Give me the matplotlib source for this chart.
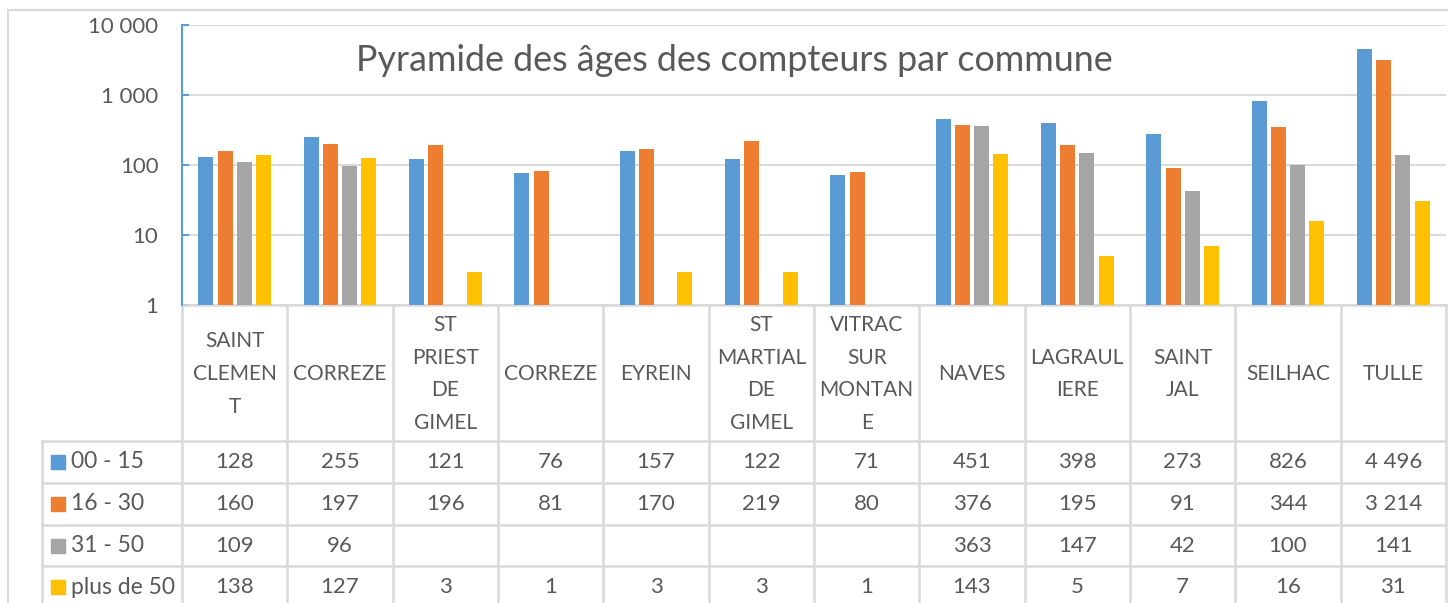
import numpy as np
import matplotlib
matplotlib.use("Agg")
import matplotlib.pyplot as plt
from matplotlib.transforms import blended_transform_factory
from matplotlib.lines import Line2D

# ---------------- data ----------------
communes = ["SAINT\nCLEMEN\nT", "CORREZE", "ST\nPRIEST\nDE\nGIMEL", "CORREZE", "EYREIN",
            "ST\nMARTIAL\nDE\nGIMEL", "VITRAC\nSUR\nMONTAN\nE", "NAVES", "LAGRAUL\nIERE",
            "SAINT\nJAL", "SEILHAC", "TULLE"]
series_names = ["00 - 15", "16 - 30", "31 - 50", "plus de 50"]
age_00_15 = [128, 255, 121, 76, 157, 122, 71, 451, 398, 273, 826, 4496]
age_16_30 = [160, 197, 196, 81, 170, 219, 80, 376, 195, 91, 344, 3214]
age_31_50 = [109, 96, None, None, None, None, None, 363, 147, 42, 100, 141]
age_50_plus = [138, 127, 3, 1, 3, 3, 1, 143, 5, 7, 16, 31]
colors = ["#5B9BD5", "#ED7D31", "#A5A5A5", "#FFC000"]
yticks = [1, 10, 100, 1000, 10000]
title = "Pyramide des âges des compteurs par commune"

series = [age_00_15, age_16_30, age_31_50, age_50_plus]

FONT = "Lato"
TXT = "#595959"
GRID = "#D9D9D9"
W, H = 1448, 603

def fmt(v):
    if v is None:
        return ""
    return f"{v:,}".replace(",", " ")

fig = plt.figure(figsize=(W / 100, H / 100), dpi=100)
fig.patch.set_facecolor("white")

# outer chart border (left and top edges visible)
fig.add_artist(Line2D([8 / W, 8 / W], [0, 1 - 10 / H], transform=fig.transFigure,
                      color=GRID, lw=1.5))
fig.add_artist(Line2D([8 / W, 1], [1 - 10 / H, 1 - 10 / H], transform=fig.transFigure,
                      color=GRID, lw=1.5))

ax = fig.add_axes([182 / W, 1 - 305 / H, (1446 - 182) / W, 280 / H])
ax.set_yscale("log")
n = len(communes)
x = np.arange(n)
step = 0.182
bw = 0.142
for i, (vals, col) in enumerate(zip(series, colors)):
    v = np.array([np.nan if a is None else a for a in vals], dtype=float)
    ax.bar(x + (i - 1.5) * step, v, width=bw, color=col, zorder=3)

ax.set_xlim(-0.5, n - 0.5)
ax.set_ylim(1, 10000)
ax.set_yticks(yticks)
ax.set_yticklabels([fmt(t) for t in yticks], fontsize=16, color=TXT, family=FONT)
ax.yaxis.set_minor_locator(matplotlib.ticker.NullLocator())
ax.set_xticks([])
ax.tick_params(axis="y", direction="in", length=5, width=1.5, color="#5B9BD5", pad=17)
ax.grid(axis="y", color=GRID, lw=1.4, zorder=0)
for s in ["top", "right", "bottom"]:
    ax.spines[s].set_visible(False)
ax.spines["left"].set_color("#5B9BD5")
ax.spines["left"].set_linewidth(1.5)
ax.spines["left"].set_zorder(4)

fig.text(734 / W, 1 - 71 / H, title, ha="center", va="baseline", fontsize=25.8,
         color=TXT, family=FONT)

# ---------------- data table ----------------
tr = blended_transform_factory(ax.transData, fig.transFigure)
def fy(px):
    return 1 - px / H

leg_left = -0.5 - 140 / 105.33
row_edges = [441, 483, 525, 566]
lw_t = 1.8
ax.add_line(Line2D([-0.5, n - 0.5], [fy(305), fy(305)], transform=tr, color=GRID, lw=lw_t, clip_on=False))
for r in row_edges:
    ax.add_line(Line2D([leg_left, n - 0.5], [fy(r), fy(r)], transform=tr, color=GRID, lw=lw_t, clip_on=False))
for k in range(n + 1):
    ax.add_line(Line2D([k - 0.5, k - 0.5], [fy(305), 0], transform=tr, color=GRID, lw=lw_t, clip_on=False))
ax.add_line(Line2D([leg_left, leg_left], [fy(441), 0], transform=tr, color=GRID, lw=lw_t, clip_on=False))

# header labels
for i, name in enumerate(communes):
    ax.text(i, fy(374), name, transform=tr, ha="center", va="center", fontsize=15,
            color=TXT, family=FONT, linespacing=1.8, clip_on=False)

row_centers = [462, 504, 545.5, 587]
sq_x = -0.5 + (58.5 - 182) / 105.33
txt_x = -0.5 + (71 - 182) / 105.33
for r, (name, vals, col) in enumerate(zip(series_names, series, colors)):
    yc = fy(row_centers[r])
    ax.plot([sq_x], [yc], marker="s", markersize=9.4, color=col, transform=tr,
            clip_on=False, linestyle="none")
    ax.text(txt_x, yc, name, transform=tr, ha="left", va="center", fontsize=16.5,
            color=TXT, family=FONT, clip_on=False)
    for i, v in enumerate(vals):
        ax.text(i, yc, fmt(v), transform=tr, ha="center", va="center", fontsize=16,
                color=TXT, family=FONT, clip_on=False)

fig.savefig("out.png", dpi=100, facecolor="white")
